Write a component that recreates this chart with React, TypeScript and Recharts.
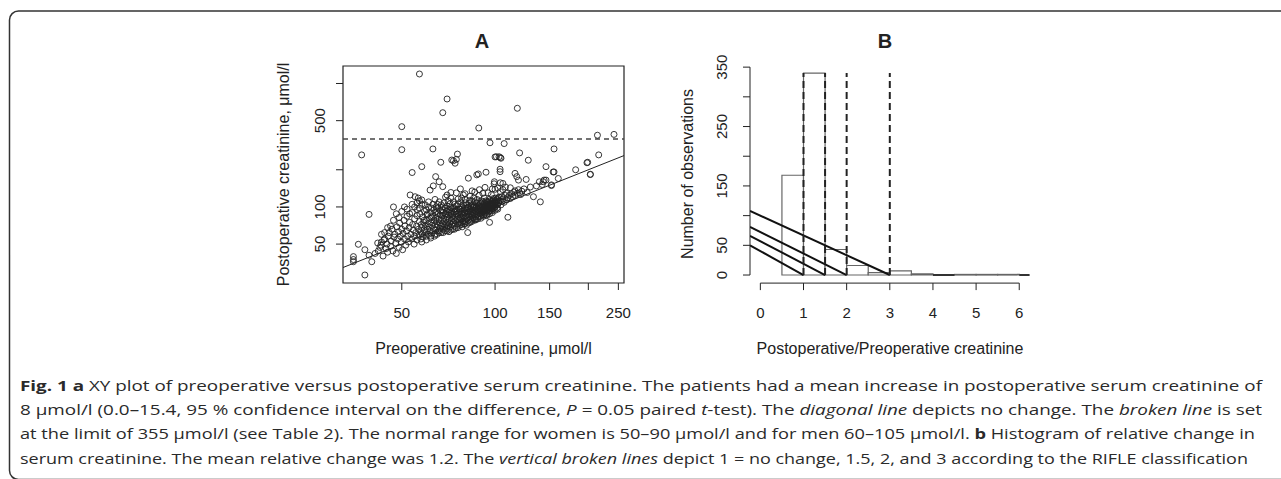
import React from 'react';
import {
  ScatterChart, Scatter, ComposedChart, Line, XAxis, YAxis, ReferenceLine, ReferenceArea,
} from 'recharts';

// Panel A: preoperative vs postoperative creatinine (umol/l)
const outlierPoints: [number, number][] = [
  [57, 1194], [70, 749], [67.8, 580], [118, 630], [50, 447], [88.6, 436], [214, 381], [242, 387],
  [37.1, 264], [50, 291], [63, 295], [96.3, 331], [107, 326], [155, 295], [75.6, 268], [72.5, 240],
  [75, 243], [66.8, 230], [100, 254], [104, 251], [120, 274], [128, 239], [216, 264], [199, 230],
  [203, 183], [182, 200], [146, 212], [154, 192], [58, 212], [54, 190], [39.2, 87], [38, 28.1],
  [34.9, 39.6], [34.9, 37.5], [34.9, 36], [36.2, 49.8], [38, 45], [39.2, 40.6], [40, 36],
  [140, 110], [110, 82.5], [152, 149], [133, 121], [198, 228], [203, 184], [160, 170],
];

const cloudPoints: [number, number][] = [
  [41, 42], [42, 44], [42.5, 47], [43, 52], [43.5, 40], [44, 55], [44.5, 46], [44.8, 50], [45, 43],
  [45.2, 58], [43.8, 54], [42.8, 49], [41.8, 51],
  [45.5, 62], [46, 48], [46.2, 53], [46.5, 66], [46.8, 44], [47, 100], [47.2, 57], [47.5, 60],
  [47.8, 51], [48, 42], [48.2, 69], [48.5, 55], [48.8, 63], [49, 47], [49.2, 74], [49.5, 58],
  [49.8, 52], [50, 66], [50.3, 45], [50.5, 61], [50.8, 78], [51, 55], [51.2, 70], [51.5, 49],
  [51.8, 64], [52, 84], [52.2, 58], [52.5, 52], [52.8, 68], [53, 75], [53.2, 125], [53.5, 60],
  [53.8, 55], [54, 90], [54.2, 72], [54.5, 65], [54.8, 50], [55, 80], [55.2, 121], [55, 58],
  [55.5, 62], [55.8, 70], [56, 54], [56.2, 95], [56.5, 118], [56.6, 66], [56.8, 59], [57, 76],
  [57.2, 88], [57.4, 63], [57.6, 55], [57.8, 72], [58, 114], [58, 68], [58.2, 60], [58.4, 83],
  [58.6, 57], [58.8, 75], [59, 65], [59.2, 92], [59.5, 104], [59.5, 70], [59.8, 62], [60, 58],
  [60, 78], [60.3, 86], [60.5, 66], [60.8, 73], [61, 110], [61, 60], [61.3, 69], [61.5, 81],
  [61.7, 137], [61.8, 64], [62, 56], [62, 75], [62.3, 98], [62.5, 71], [62.8, 62], [63, 84],
  [63.2, 148], [63.3, 67], [63.5, 78], [63.8, 58], [64, 90], [64, 72], [64.3, 176], [64.3, 65],
  [64.5, 82], [64.8, 69], [65, 60], [65, 76], [65.2, 105],
  [65.5, 88], [65.5, 71], [65.8, 64], [66, 160], [66, 80], [66.2, 74], [66.5, 67], [66.8, 93],
  [67, 78], [67, 62], [67.2, 70], [67.5, 85], [67.8, 146], [67.8, 73], [68, 66], [68, 100],
  [68.3, 81], [68.5, 76], [68.8, 69], [69, 88], [69, 64], [69.2, 120], [69.5, 79], [69.5, 72],
  [69.8, 92], [70, 83], [70, 67], [70.3, 75], [70.5, 112], [70.5, 70], [70.8, 86], [71, 80],
  [71, 63], [71.3, 95], [71.5, 74], [71.8, 69], [72, 89], [72, 131], [72.2, 78], [72.5, 72],
  [72.8, 84], [73, 98], [73, 66], [73.2, 80], [73.4, 237], [73.5, 75], [73.8, 91], [74, 70],
  [74, 105], [74.3, 226], [74.3, 82], [74.5, 77], [74.8, 87], [75, 68], [75.2, 94], [75.4, 79],
  [75.8, 73], [76, 84], [76, 116], [76.3, 90], [76.5, 78], [76.8, 71], [77, 96], [77, 82],
  [77.3, 140], [77.5, 75], [77.8, 88], [78, 80], [78, 102], [78.3, 69], [78.5, 92], [78.8, 77],
  [79, 85], [79, 125], [79.3, 73], [79.5, 98], [79.8, 82], [80, 89], [80, 76], [80.3, 108],
  [80.5, 84], [80.8, 71], [81, 94], [81, 80], [81.3, 87], [81.6, 62], [81.8, 100], [82, 171],
  [82, 78], [82.3, 91], [82.5, 84], [82.8, 113], [83, 75], [83, 96], [83.3, 88], [83.5, 81],
  [83.8, 104], [84, 92], [84, 78], [84.3, 135], [84.5, 86], [84.8, 99], [85, 82], [85, 90],
  [85.3, 118], [85.5, 94], [85.8, 80], [86, 101], [86, 88], [86.3, 84], [86.5, 97], [86.8, 79],
  [87, 92], [87.3, 182], [87.3, 108], [87.5, 86], [87.8, 96], [88, 83], [88.3, 185], [88.3, 102],
  [88.5, 90], [88.8, 124], [89, 84], [89, 97], [89.3, 93], [89.5, 88], [89.8, 106], [90, 81],
  [90, 99], [90.3, 94], [90.5, 112], [90.8, 87], [91, 101], [91.3, 129], [91.3, 91], [91.5, 96],
  [91.8, 84], [92, 104], [92, 92], [92.3, 118], [92.5, 99], [92.8, 144], [92.8, 89], [93, 95],
  [93.5, 191], [93.3, 103], [93.5, 86], [93.8, 98], [94, 110], [94, 93], [94.3, 101], [94.5, 88],
  [94.8, 106], [95, 96],
  [95.3, 102], [95.5, 92], [95.8, 115], [96, 99], [96, 75], [96.3, 104], [96.5, 94], [96.8, 108],
  [97, 98], [97.3, 126], [97.5, 101], [97.8, 93], [98, 111], [98.3, 104], [98.5, 97], [98.8, 117],
  [99, 102], [99.3, 154], [99.5, 160], [99.5, 99], [100, 139], [100, 108], [100.3, 103],
  [100.5, 113], [101, 255], [101, 105], [101.5, 98], [102, 118], [102.5, 108], [103, 255],
  [103.8, 202], [103.8, 193], [103, 112], [104, 157], [104, 133], [104.5, 248], [104.5, 104],
  [105, 121], [105.5, 111], [106, 155], [106, 116], [107, 109], [108, 124], [109, 129], [109, 114],
  [110, 119], [111, 124], [112, 143], [112, 117], [113, 128], [114, 121], [115, 132], [116, 187],
  [116, 135], [116, 124], [117.5, 176], [118, 129], [119, 165], [119, 138], [120, 130], [121, 126],
  [122, 134], [124, 140], [126, 167], [127, 131], [130, 145], [136, 148], [139, 160], [142, 152],
  [143, 160], [144, 165], [146, 165], [152, 151], [155, 192],
  // densest part of the cloud
  [56, 85], [57, 98], [58, 105], [59, 78], [60, 95], [60.5, 88], [61, 100], [62, 90], [62.5, 82],
  [63, 105], [63.5, 95], [64, 115], [64.5, 100], [65, 92], [65.5, 98], [66, 110], [66.5, 86],
  [67, 104], [67.5, 95], [68, 90], [68.5, 108], [69, 98], [69.5, 86], [70, 102], [70.5, 95],
  [71, 90], [71.5, 106], [72, 99], [72.5, 92], [73, 87], [73.5, 110], [74, 96], [74.5, 92],
  [75, 102], [75.5, 88], [76, 106], [76.5, 96], [77, 90], [77.5, 110], [78, 96], [78.5, 86],
  [79, 104], [79.5, 90], [80, 115], [80.5, 97], [81, 104], [81.5, 91], [82, 99], [82.5, 107],
  [83, 92], [83.5, 100], [84, 112], [84.5, 95], [85, 104], [85.5, 100], [86, 110], [86.5, 92],
  [87, 100], [87.5, 115], [88, 95], [88.5, 108], [89, 102], [89.5, 96], [90, 108], [90.5, 100],
  [91, 94], [91.5, 110], [92, 98], [92.5, 106], [93, 100], [93.5, 112], [94, 98], [94.5, 104],
  [95, 110], [95.5, 98], [96, 106], [96.5, 112], [97, 104], [97.5, 96], [98, 108], [98.5, 114],
  [99, 106], [99.5, 110], [100, 100], [100.5, 118], [101, 110], [101.5, 115], [102, 104],
  [103, 120], [104, 112],
  [58, 52], [60, 54], [62, 58], [64, 60], [66, 62], [68, 62], [70, 64], [72, 65], [74, 66],
  [76, 68], [78, 72], [80, 73], [82, 74], [84, 76], [86, 78], [88, 80], [90, 84], [92, 86],
  [94, 85], [96, 88], [98, 90], [100, 94], [102, 96],
  [46, 70], [47, 78], [48, 88], [49, 82], [50, 92], [51, 100], [52, 96], [53, 88], [54, 105],
  [55, 100], [56, 108], [57, 112], [44, 62], [45, 68], [43, 60],
  [70, 125], [72, 118], [75, 130], [78, 118], [80, 128], [83, 122], [86, 132], [89, 138],
  [95, 130], [98, 140], [102, 142], [106, 138], [108, 145],
];

const xTicksA = [50, 100, 150, 200, 250];
const xTickLabelsA = ['50', '100', '150', '', '250'];
const yTicksA = [50, 100, 200, 500, 1000];
const yTickLabelsA = ['50', '100', '', '500', ''];
const limitValue = 355;

// Panel B: histogram of post/pre ratio, bins of width 0.5
const binStarts = [0.5, 1, 1.5, 2, 2.5, 3, 3.5, 4, 4.5, 5, 5.5, 6];
const binCounts = [168, 340, 43, 16, 4, 7, 2, 0, 1, 1, 1, 0];
const binWidth = 0.5;
const rifleCutoffs = [1, 1.5, 2, 3];
const slopeStarts = [50, 66, 81, 108];
const dashTop = 340;
const xTicksB = [0, 1, 2, 3, 4, 5, 6];
const yTicksB = [0, 50, 100, 150, 200, 250, 300, 350];
const yTickLabelsB = ['0', '50', '', '150', '', '250', '', '350'];

const captionLines: [string, string][][] = [
  [['Fig. 1', 'b'], [' ', ''], ['a', 'b'], [' XY plot of preoperative versus postoperative serum creatinine. The patients had a mean increase in postoperative serum creatinine of', '']],
  [['8 μmol/l (0.0–15.4, 95 % confidence interval on the difference, ', ''], ['P', 'i'], [' = 0.05 paired ', ''], ['t', 'i'], ['-test). The ', ''], ['diagonal line', 'i'], [' depicts no change. The ', ''], ['broken line', 'i'], [' is set', '']],
  [['at the limit of 355 μmol/l (see Table 2). The normal range for women is 50–90 μmol/l and for men 60–105 μmol/l. ', ''], ['b', 'b'], [' Histogram of relative change in', '']],
  [['serum creatinine. The mean relative change was 1.2. The ', ''], ['vertical broken lines', 'i'], [' depict 1 = no change, 1.5, 2, and 3 according to the RIFLE classification', '']],
];
const captionEnds = [1262, 1262, 1255, 1248];

const INK = '#222';
const RFONT = '"Liberation Sans", Arial, Helvetica, sans-serif';

const scatterData = [...cloudPoints, ...outlierPoints].map(([pre, post]) => ({ pre, post }));
const xDomA: [number, number] = [32.3, 260.7];
const yDomA: [number, number] = [24.2, 1386];
const xDomB: [number, number] = [-0.24, 6.24];
const yDomB: [number, number] = [-13.6, 353.6];

const ring = (p: any) => (
  <circle cx={p.cx} cy={p.cy} r={3} fill="none" stroke={INK} strokeWidth={0.9} />
);

const makeXTick = (ticks: number[], labels: string[]) => (p: any) => {
  const i = ticks.indexOf(p.payload.value);
  return (
    <text x={p.x} y={p.y + 26} textAnchor="middle" fontSize={15} fontFamily={RFONT} fill={INK}>
      {labels[i]}
    </text>
  );
};

const makeYTick = (ticks: number[], labels: string[], off: number) => (p: any) => {
  const i = ticks.indexOf(p.payload.value);
  return (
    <text transform={`translate(${p.x - off},${p.y}) rotate(-90)`} textAnchor="middle"
      fontSize={15} fontFamily={RFONT} fill={INK}>
      {labels[i]}
    </text>
  );
};

function PanelA() {
  return (
    <div style={{ position: 'absolute', left: 250, top: 20 }}>
      <ScatterChart width={400} height={320} margin={{ top: 46, right: 26, bottom: 17, left: 33 }}>
        <XAxis type="number" dataKey="pre" scale="log" domain={xDomA} allowDataOverflow
          ticks={xTicksA} interval={0} axisLine={false} tickSize={7} tickLine={{ stroke: INK }}
          tick={makeXTick(xTicksA, xTickLabelsA)} height={40} />
        <YAxis type="number" dataKey="post" scale="log" domain={yDomA} allowDataOverflow
          ticks={yTicksA} interval={0} axisLine={false} tickSize={7} tickLine={{ stroke: INK }}
          tick={makeYTick(yTicksA, yTickLabelsA, 8.6)} width={60} />
        <ReferenceArea x1={xDomA[0]} x2={xDomA[1]} y1={yDomA[0]} y2={yDomA[1]} fill="none"
          fillOpacity={0} stroke={INK} strokeWidth={1.2} ifOverflow="visible" />
        <ReferenceLine y={limitValue} stroke="#444" strokeWidth={1.3} strokeDasharray="5 4" />
        <ReferenceLine segment={[{ x: xDomA[0], y: xDomA[0] }, { x: xDomA[1], y: xDomA[1] }]}
          stroke={INK} strokeWidth={1} ifOverflow="visible" />
        <Scatter data={scatterData} shape={ring} isAnimationActive={false} />
      </ScatterChart>
    </div>
  );
}

function PanelB() {
  return (
    <div style={{ position: 'absolute', left: 660, top: 20 }}>
      <ComposedChart width={400} height={320} margin={{ top: 45, right: 30.4, bottom: 16.9, left: 30 }}>
        <XAxis type="number" dataKey="x" domain={xDomB} allowDataOverflow ticks={xTicksB}
          interval={0} axisLine={false} tickSize={7} tickLine={{ stroke: INK }}
          tick={makeXTick(xTicksB, xTicksB.map(String))} height={40} />
        <YAxis type="number" domain={yDomB} allowDataOverflow ticks={yTicksB} interval={0}
          axisLine={false} tickSize={7} tickLine={{ stroke: INK }}
          tick={makeYTick(yTicksB, yTickLabelsB, 14)} width={60} />
        {binStarts.map((s, i) =>
          binCounts[i] > 0 ? (
            <ReferenceArea key={s} x1={s} x2={s + binWidth} y1={0} y2={binCounts[i]} fill="#fff"
              fillOpacity={1} stroke="#666" strokeWidth={1.2} ifOverflow="hidden" />
          ) : (
            <ReferenceLine key={s} segment={[{ x: s, y: 0 }, { x: Math.min(s + binWidth, xDomB[1]), y: 0 }]}
              stroke="#333" strokeWidth={2} ifOverflow="visible" />
          ))}
        <ReferenceLine segment={[{ x: xDomB[0], y: 0 }, { x: xDomB[0], y: 350 }]} stroke={INK} ifOverflow="visible" />
        <ReferenceLine segment={[{ x: 0, y: yDomB[0] }, { x: 6, y: yDomB[0] }]} stroke={INK} ifOverflow="visible" />
        {rifleCutoffs.map((c, i) => (
          <Line key={`s${c}`} data={[{ x: xDomB[0], y: slopeStarts[i] }, { x: c, y: 0 }]} dataKey="y"
            type="linear" stroke="#111" strokeWidth={2} dot={false} isAnimationActive={false} />
        ))}
        {rifleCutoffs.map((c) => (
          <Line key={`d${c}`} data={[{ x: c, y: 0 }, { x: c, y: dashTop }]} dataKey="y"
            type="linear" stroke="#222" strokeWidth={2} strokeDasharray="7 4" dot={false}
            isAnimationActive={false} />
        ))}
      </ComposedChart>
    </div>
  );
}

export default function App() {
  return (
    <div style={{ position: 'absolute', left: 0, top: 0, width: 1281, height: 479, background: '#fff', overflow: 'hidden' }}>
      <PanelA />
      <PanelB />
      <svg width={1281} height={479} style={{ position: 'absolute', left: 0, top: 0, pointerEvents: 'none' }}>
        <rect x={9.5} y={11} width={1400} height={468.5} rx={9} fill="none" stroke="#333" strokeWidth={1.5} />
        <g fontFamily={RFONT} fill={INK}>
          <text x={482} y={47.7} textAnchor="middle" fontSize={20} fontWeight="bold">A</text>
          <text x={885} y={47.7} textAnchor="middle" fontSize={20} fontWeight="bold">B</text>
          <text x={483.5} y={354} textAnchor="middle" fontSize={16}>Preoperative creatinine, μmol/l</text>
          <text x={890} y={354} textAnchor="middle" fontSize={16}>Postoperative/Preoperative creatinine</text>
          <text transform="translate(288.6,174.5) rotate(-90)" textAnchor="middle" fontSize={16}>Postoperative creatinine, μmol/l</text>
          <text transform="translate(692.6,174) rotate(-90)" textAnchor="middle" fontSize={16}>Number of observations</text>
        </g>
        <g fontFamily='"Open Sans", "Noto Sans", sans-serif' fontSize={15} fill="#2a2a2a">
          {captionLines.map((segs, li) => (
            <text key={li} x={20} y={391 + li * 24.2} textLength={captionEnds[li] - 20}
              lengthAdjust="spacingAndGlyphs" style={{ whiteSpace: 'pre' }}>
              {segs.map(([t, s], k) => (
                <tspan key={k} fontWeight={s === 'b' ? 'bold' : undefined}
                  fontStyle={s === 'i' ? 'italic' : undefined}>{t}</tspan>
              ))}
            </text>
          ))}
        </g>
      </svg>
    </div>
  );
}
